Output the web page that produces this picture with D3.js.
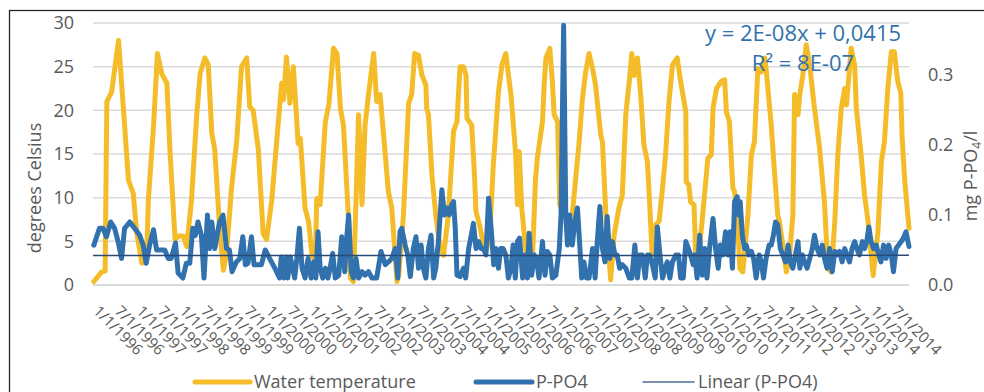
<!DOCTYPE html>
<html>
<head>
<meta charset="utf-8">
<script src="https://cdn.jsdelivr.net/npm/d3@7"></script>
<style>
  html, body { margin: 0; padding: 0; background: #fff; }
  svg { display: block; font-family: 'Open Sans', sans-serif; }
</style>
</head>
<body>
<svg id="chart" width="984" height="392"></svg>
<script>
// water temperature, degrees Celsius : [decimal year, value]
var tempData = [
  [1996.02,0.4],[1996.20,1.5],[1996.28,1.6],[1996.32,21.0],[1996.43,22.1],[1996.59,28.0],[1996.70,20.4],[1996.82,12.0],
  [1996.93,10.5],[1997.01,6.0],[1997.13,2.5],[1997.24,2.9],[1997.28,9.7],[1997.40,18.1],[1997.49,26.5],[1997.59,24.2],
  [1997.71,23.1],[1997.78,15.5],[1997.90,5.2],[1997.98,5.6],[1998.09,5.6],[1998.17,4.4],[1998.28,9.7],[1998.40,19.3],
  [1998.48,24.2],[1998.59,26.0],[1998.67,25.2],[1998.75,17.4],[1998.82,15.5],[1998.94,5.9],[1999.02,1.7],[1999.09,3.6],
  [1999.21,11.2],[1999.33,16.6],[1999.44,25.0],[1999.56,26.0],[1999.63,20.4],[1999.71,20.0],[1999.83,15.5],[1999.94,5.9],
  [2000.02,5.2],[2000.14,9.7],[2000.25,16.2],[2000.37,23.1],[2000.41,21.2],[2000.48,26.1],[2000.56,20.8],[2000.64,25.0],
  [2000.75,16.2],[2000.80,16.8],[2000.91,8.8],[2000.99,7.3],[2001.07,3.4],[2001.15,2.7],[2001.18,9.9],[2001.26,9.2],
  [2001.38,18.7],[2001.46,20.6],[2001.57,27.1],[2001.65,26.5],[2001.73,20.2],[2001.80,18.3],[2001.92,7.3],[2001.96,0.8],
  [2002.03,0.4],[2002.09,9.5],[2002.15,19.5],[2002.23,9.2],[2002.30,18.3],[2002.38,21.8],[2002.50,26.5],[2002.57,21.0],
  [2002.65,21.8],[2002.73,17.2],[2002.84,10.7],[2002.92,8.8],[2003.04,0.4],[2003.08,1.1],[2003.19,8.0],[2003.31,20.8],
  [2003.38,21.8],[2003.45,26.5],[2003.54,26.3],[2003.62,24.0],[2003.71,22.9],[2003.73,20.2],[2003.77,19.5],[2003.85,12.6],
  [2003.94,8.0],[2004.04,4.2],[2004.12,3.4],[2004.23,8.0],[2004.35,17.6],[2004.43,18.7],[2004.50,25.0],[2004.58,25.0],
  [2004.64,24.0],[2004.66,19.1],[2004.77,18.3],[2004.83,13.0],[2004.87,8.4],[2004.97,6.5],[2005.04,4.6],[2005.12,4.2],
  [2005.20,6.9],[2005.27,13.7],[2005.39,22.1],[2005.47,25.2],[2005.56,26.5],[2005.64,23.3],[2005.68,21.8],[2005.79,14.9],
  [2005.83,9.2],[2005.87,15.3],[2005.93,8.8],[2006.02,4.2],[2006.10,1.1],[2006.18,3.4],[2006.25,12.2],[2006.29,14.5],
  [2006.41,18.7],[2006.45,22.9],[2006.49,26.0],[2006.58,27.1],[2006.64,23.3],[2006.68,19.5],[2006.76,18.7],[2006.81,9.2],
  [2006.91,8.0],[2007.03,7.6],[2007.10,8.0],[2007.18,12.2],[2007.26,16.4],[2007.33,21.0],[2007.41,24.4],[2007.49,26.5],
  [2007.57,24.8],[2007.64,22.9],[2007.76,17.2],[2007.80,16.4],[2007.88,8.0],[2007.95,3.4],[2007.99,0.6],[2008.07,5.7],
  [2008.18,8.8],[2008.26,10.3],[2008.34,19.5],[2008.42,23.3],[2008.48,26.5],[2008.53,24.0],[2008.61,26.0],[2008.69,21.4],
  [2008.76,16.0],[2008.84,14.1],[2008.89,9.5],[2008.95,3.4],[2009.03,6.9],[2009.11,7.3],[2009.19,11.1],[2009.26,14.9],
  [2009.34,21.0],[2009.42,25.2],[2009.53,26.0],[2009.61,23.3],[2009.73,19.8],[2009.74,11.8],[2009.80,11.5],[2009.84,9.5],
  [2009.92,9.2],[2009.96,3.4],[2010.03,3.8],[2010.10,6.9],[2010.24,14.5],[2010.32,14.9],[2010.36,20.2],[2010.44,22.5],
  [2010.55,23.3],[2010.63,23.5],[2010.67,19.8],[2010.74,18.7],[2010.82,11.1],[2010.86,10.7],[2010.94,6.5],[2010.98,1.9],
  [2011.05,1.5],[2011.17,8.0],[2011.25,14.9],[2011.32,16.4],[2011.40,24.8],[2011.48,24.4],[2011.56,26.0],[2011.59,24.8],
  [2011.71,18.3],[2011.79,12.6],[2011.86,8.0],[2011.90,7.3],[2012.06,1.5],[2012.13,3.1],[2012.21,8.0],[2012.25,21.8],
  [2012.33,19.5],[2012.37,21.8],[2012.44,24.0],[2012.52,27.5],[2012.60,25.2],[2012.71,20.2],[2012.83,15.6],[2012.94,9.5],
  [2013.02,1.9],[2013.10,1.5],[2013.18,7.3],[2013.25,14.9],[2013.33,20.2],[2013.41,22.5],[2013.45,20.6],[2013.56,27.1],
  [2013.64,25.2],[2013.68,20.2],[2013.79,14.9],[2013.87,10.3],[2013.95,7.3],[2014.07,1.1],[2014.18,6.1],[2014.26,14.1],
  [2014.33,16.4],[2014.41,22.5],[2014.49,26.7],[2014.56,26.7],[2014.64,23.3],[2014.71,22.0],[2014.74,17.0],[2014.80,12.0],
  [2014.90,6.5]
];

// P-PO4, mg/l : [decimal year, value]
var po4Data = [
  [1996.02,0.057],[1996.15,0.081],[1996.23,0.081],[1996.31,0.069],[1996.41,0.090],[1996.50,0.081],[1996.58,0.062],[1996.66,0.038],
  [1996.73,0.081],[1996.85,0.090],[1996.96,0.081],[1997.08,0.071],[1997.16,0.057],[1997.23,0.031],[1997.31,0.057],[1997.40,0.079],
  [1997.47,0.050],[1997.54,0.050],[1997.66,0.050],[1997.74,0.038],[1997.81,0.038],[1997.91,0.060],[1997.97,0.017],[1998.08,0.010],
  [1998.16,0.031],[1998.24,0.031],[1998.31,0.081],[1998.37,0.071],[1998.43,0.090],[1998.51,0.071],[1998.57,0.010],[1998.65,0.100],
  [1998.70,0.052],[1998.75,0.090],[1998.82,0.052],[1998.93,0.090],[1999.01,0.100],[1999.09,0.052],[1999.16,0.050],[1999.22,0.019],
  [1999.32,0.033],[1999.40,0.038],[1999.47,0.069],[1999.53,0.029],[1999.59,0.031],[1999.67,0.069],[1999.73,0.029],[1999.82,0.029],
  [1999.90,0.029],[1999.99,0.050],[2000.09,0.038],[2000.21,0.024],[2000.32,0.010],[2000.36,0.040],[2000.42,0.010],[2000.48,0.040],
  [2000.51,0.010],[2000.57,0.040],[2000.67,0.010],[2000.72,0.038],[2000.78,0.081],[2000.84,0.024],[2000.91,0.010],[2000.98,0.038],
  [2001.05,0.010],[2001.11,0.033],[2001.16,0.010],[2001.21,0.076],[2001.26,0.024],[2001.32,0.010],[2001.38,0.024],[2001.44,0.010],
  [2001.49,0.024],[2001.55,0.045],[2001.61,0.010],[2001.69,0.014],[2001.76,0.069],[2001.83,0.019],[2001.88,0.071],[2001.92,0.100],
  [2001.98,0.019],[2002.03,0.010],[2002.09,0.038],[2002.15,0.010],[2002.23,0.019],[2002.30,0.014],[2002.38,0.019],[2002.46,0.010],
  [2002.57,0.010],[2002.67,0.048],[2002.77,0.029],[2002.84,0.033],[2002.92,0.038],[2003.00,0.052],[2003.06,0.010],[2003.11,0.076],
  [2003.15,0.081],[2003.23,0.057],[2003.29,0.043],[2003.35,0.012],[2003.42,0.052],[2003.48,0.069],[2003.54,0.024],[2003.60,0.057],
  [2003.65,0.024],[2003.71,0.010],[2003.77,0.052],[2003.83,0.071],[2003.89,0.010],[2003.94,0.024],[2004.00,0.062],[2004.08,0.136],
  [2004.14,0.100],[2004.19,0.110],[2004.25,0.100],[2004.30,0.114],[2004.35,0.119],[2004.39,0.081],[2004.43,0.014],[2004.50,0.012],
  [2004.58,0.024],[2004.63,0.010],[2004.70,0.052],[2004.76,0.071],[2004.81,0.088],[2004.87,0.052],[2004.93,0.062],[2004.99,0.052],
  [2005.04,0.052],[2005.10,0.043],[2005.16,0.124],[2005.22,0.081],[2005.28,0.029],[2005.33,0.052],[2005.39,0.024],[2005.44,0.052],
  [2005.50,0.052],[2005.56,0.043],[2005.62,0.010],[2005.68,0.024],[2005.73,0.057],[2005.78,0.010],[2005.83,0.062],[2005.88,0.067],
  [2005.95,0.010],[2006.01,0.043],[2006.06,0.010],[2006.10,0.074],[2006.16,0.014],[2006.22,0.043],[2006.27,0.038],[2006.33,0.010],
  [2006.41,0.062],[2006.47,0.014],[2006.52,0.048],[2006.58,0.043],[2006.64,0.010],[2006.72,0.014],[2006.80,0.052],[2006.84,0.100],
  [2006.90,0.371],[2006.95,0.100],[2006.99,0.057],[2007.04,0.100],[2007.10,0.057],[2007.16,0.090],[2007.22,0.110],[2007.26,0.071],
  [2007.32,0.010],[2007.37,0.033],[2007.43,0.010],[2007.49,0.010],[2007.57,0.052],[2007.63,0.010],[2007.68,0.062],[2007.74,0.112],
  [2007.80,0.052],[2007.86,0.033],[2007.91,0.098],[2007.97,0.038],[2008.03,0.062],[2008.09,0.043],[2008.14,0.043],[2008.20,0.024],
  [2008.26,0.029],[2008.34,0.024],[2008.42,0.010],[2008.48,0.010],[2008.55,0.057],[2008.61,0.010],[2008.66,0.043],[2008.72,0.043],
  [2008.79,0.010],[2008.84,0.043],[2008.89,0.043],[2008.94,0.033],[2009.02,0.010],[2009.07,0.083],[2009.13,0.043],[2009.19,0.010],
  [2009.25,0.024],[2009.30,0.033],[2009.36,0.010],[2009.42,0.033],[2009.50,0.043],[2009.56,0.043],[2009.61,0.010],[2009.67,0.010],
  [2009.73,0.062],[2009.79,0.052],[2009.84,0.043],[2009.90,0.029],[2009.94,0.043],[2009.99,0.010],[2010.05,0.071],[2010.11,0.014],
  [2010.17,0.052],[2010.22,0.010],[2010.28,0.052],[2010.36,0.095],[2010.42,0.052],[2010.48,0.024],[2010.53,0.057],[2010.59,0.043],
  [2010.65,0.076],[2010.71,0.043],[2010.76,0.076],[2010.81,0.024],[2010.86,0.119],[2010.92,0.126],[2010.96,0.100],[2010.99,0.119],
  [2011.04,0.071],[2011.09,0.052],[2011.13,0.057],[2011.19,0.043],[2011.25,0.048],[2011.30,0.038],[2011.36,0.010],[2011.43,0.043],
  [2011.48,0.033],[2011.53,0.010],[2011.59,0.038],[2011.66,0.057],[2011.71,0.057],[2011.76,0.071],[2011.81,0.090],[2011.86,0.086],
  [2011.92,0.052],[2011.98,0.043],[2012.04,0.033],[2012.10,0.057],[2012.15,0.033],[2012.21,0.024],[2012.27,0.043],[2012.33,0.062],
  [2012.37,0.024],[2012.43,0.043],[2012.48,0.033],[2012.54,0.024],[2012.60,0.038],[2012.66,0.052],[2012.71,0.071],[2012.77,0.052],
  [2012.83,0.043],[2012.89,0.057],[2012.94,0.038],[2013.00,0.024],[2013.06,0.052],[2013.12,0.019],[2013.18,0.048],[2013.23,0.043],
  [2013.29,0.048],[2013.35,0.033],[2013.41,0.052],[2013.46,0.043],[2013.52,0.033],[2013.58,0.052],[2013.64,0.062],[2013.69,0.052],
  [2013.75,0.043],[2013.82,0.062],[2013.87,0.052],[2013.92,0.062],[2013.97,0.083],[2014.02,0.062],[2014.08,0.052],[2014.14,0.057],
  [2014.20,0.043],[2014.25,0.033],[2014.31,0.057],[2014.37,0.038],[2014.43,0.057],[2014.49,0.043],[2014.54,0.019],[2014.60,0.052],
  [2014.66,0.057],[2014.72,0.062],[2014.77,0.067],[2014.83,0.076],[2014.90,0.055]
];

var tempTicks = [0, 5, 10, 15, 20, 25, 30];
var po4Ticks = [0, 0.1, 0.2, 0.3];
var firstYear = 1996, lastYear = 2014;   // x labels every 1/1 and 7/1
var trendSlope = 2e-8, trendIntercept = 0.0415;   // Excel linear fit on date serial
var legendLabels = ['Water temperature', 'P-PO4', 'Linear (P-PO4)'];

var colors = { temp: '#f5bc2a', po4: '#3172ae', trend: '#2b4a78', text: '#595959', grid: '#d9d9d9' };

function toDate(t) {
  var y = Math.floor(t);
  var a = Date.UTC(y, 0, 1), b = Date.UTC(y + 1, 0, 1);
  return new Date(a + (t - y) * (b - a));
}
function excelSerial(d) {
  return (d - Date.UTC(1899, 11, 30)) / 864e5;
}

var svg = d3.select('#chart');
var plot = { left: 93, right: 909, top: 23, bottom: 285 };

// chart border
svg.append('rect')
  .attr('x', 9.5).attr('y', 10.5)
  .attr('width', 990).attr('height', 400)
  .attr('fill', '#fff')
  .attr('stroke', '#262626')
  .attr('stroke-width', 1.3);

var x = d3.scaleUtc()
  .domain([new Date(Date.UTC(firstYear, 0, 1)), toDate(tempData[tempData.length - 1][0])])
  .range([plot.left, plot.right]);
var yL = d3.scaleLinear().domain([0, 30]).range([plot.bottom, plot.top]);
var yR = d3.scaleLinear().domain([0, 0.3743]).range([plot.bottom, plot.top]);

// gridlines
svg.append('g')
  .selectAll('line')
  .data(tempTicks)
  .enter().append('line')
  .attr('x1', plot.left).attr('x2', plot.right)
  .attr('y1', function (d) { return yL(d); })
  .attr('y2', function (d) { return yL(d); })
  .attr('stroke', colors.grid)
  .attr('stroke-width', function (d) { return d === 0 ? 2 : 1.5; });

// left axis
var leftAxis = svg.append('g')
  .attr('transform', 'translate(' + (plot.left - 19) + ',0)')
  .call(d3.axisLeft(yL).tickValues(tempTicks).tickSize(0).tickPadding(0));
leftAxis.select('.domain').remove();
leftAxis.selectAll('text')
  .attr('fill', colors.text)
  .attr('font-size', 18)
  .attr('font-family', "'Open Sans', sans-serif");

// right axis
var rightAxis = svg.append('g')
  .attr('transform', 'translate(' + (plot.right + 19) + ',0)')
  .call(d3.axisRight(yR).tickValues(po4Ticks).tickFormat(d3.format('.1f')).tickSize(0).tickPadding(0));
rightAxis.select('.domain').remove();
rightAxis.selectAll('text')
  .attr('fill', colors.text)
  .attr('font-size', 18)
  .attr('font-family', "'Open Sans', sans-serif");

// bottom axis, rotated date labels
var xTicks = [];
for (var yr = firstYear; yr <= lastYear; yr++) {
  xTicks.push(new Date(Date.UTC(yr, 0, 1)));
  xTicks.push(new Date(Date.UTC(yr, 6, 1)));
}
var bottomAxis = svg.append('g')
  .attr('transform', 'translate(0,' + plot.bottom + ')')
  .call(d3.axisBottom(x).tickValues(xTicks).tickSize(0)
    .tickFormat(function (d) {
      return (d.getUTCMonth() + 1) + '/' + d.getUTCDate() + '/' + d.getUTCFullYear();
    }));
bottomAxis.select('.domain').remove();
bottomAxis.selectAll('text')
  .attr('fill', colors.text)
  .attr('font-size', 15)
  .attr('font-family', "'Open Sans', sans-serif")
  .attr('text-anchor', 'start')
  .attr('dy', 0)
  .attr('y', 0)
  .attr('transform', 'translate(-1,27) rotate(45)');

// series
var tempLine = d3.line()
  .x(function (d) { return x(toDate(d[0])); })
  .y(function (d) { return yL(d[1]); });
var po4Line = d3.line()
  .x(function (d) { return x(toDate(d[0])); })
  .y(function (d) { return yR(d[1]); });

svg.append('path')
  .datum(tempData)
  .attr('d', tempLine)
  .attr('fill', 'none')
  .attr('stroke', colors.temp)
  .attr('stroke-width', 5)
  .attr('stroke-linejoin', 'round')
  .attr('stroke-linecap', 'round');

svg.append('path')
  .datum(po4Data)
  .attr('d', po4Line)
  .attr('fill', 'none')
  .attr('stroke', colors.po4)
  .attr('stroke-width', 5)
  .attr('stroke-linejoin', 'round')
  .attr('stroke-linecap', 'round');

// linear trendline of P-PO4
var trendEnds = [x.domain()[0], x.domain()[1]];
svg.append('path')
  .datum(trendEnds)
  .attr('d', d3.line()
    .x(function (d) { return x(d); })
    .y(function (d) { return yR(trendSlope * excelSerial(d) + trendIntercept); }))
  .attr('fill', 'none')
  .attr('stroke', colors.trend)
  .attr('stroke-width', 1.5);

// trendline equation
var eq = svg.append('text')
  .attr('text-anchor', 'middle')
  .attr('fill', colors.po4)
  .attr('font-size', 22);
eq.append('tspan').attr('x', 803).attr('y', 41).text('y = 2E-08x + 0,0415');
eq.append('tspan').attr('x', 803).attr('y', 71).text('R\u00b2 = 8E-07');

// axis titles
svg.append('text')
  .attr('transform', 'translate(41,188) rotate(-90)')
  .attr('text-anchor', 'middle')
  .attr('fill', colors.text)
  .attr('font-size', 18)
  .text('degrees Celsius');

var rt = svg.append('text')
  .attr('transform', 'translate(977,176) rotate(-90)')
  .attr('text-anchor', 'middle')
  .attr('fill', colors.text)
  .attr('font-size', 18);
rt.append('tspan').text('mg P-PO');
rt.append('tspan').attr('font-size', 12).attr('dy', 4).text('4');
rt.append('tspan').attr('dy', -4).text('/l');

// legend
var legendItems = [
  { label: legendLabels[0], color: colors.temp, width: 5, x1: 195, x2: 250 },
  { label: legendLabels[1], color: colors.po4, width: 5, x1: 476, x2: 532 },
  { label: legendLabels[2], color: '#4f6e9c', width: 1.5, x1: 643, x2: 694 }
];
var legend = svg.append('g')
  .selectAll('g')
  .data(legendItems)
  .enter().append('g');
legend.append('line')
  .attr('x1', function (d) { return d.x1; })
  .attr('x2', function (d) { return d.x2; })
  .attr('y1', 382).attr('y2', 382)
  .attr('stroke', function (d) { return d.color; })
  .attr('stroke-width', function (d) { return d.width; })
  .attr('stroke-linecap', 'round');
legend.append('text')
  .attr('x', function (d) { return d.x2 + 4; })
  .attr('y', 382)
  .attr('dy', '0.35em')
  .attr('fill', colors.text)
  .attr('font-size', 18)
  .text(function (d) { return d.label; });
</script>
</body>
</html>
